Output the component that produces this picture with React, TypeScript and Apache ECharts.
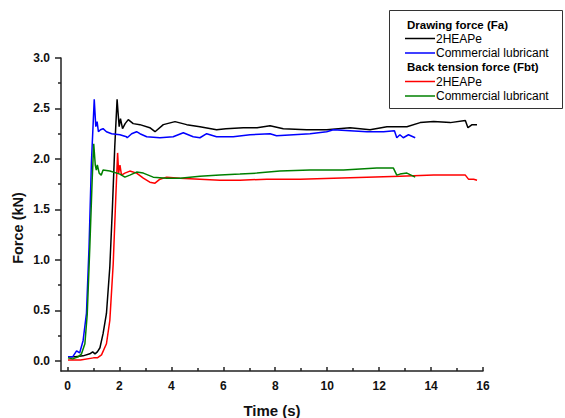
import React, { useEffect, useRef } from "react";
import * as echarts from "echarts";

// Drawing force (Fa)
const faHeape: number[][] = [
  [0.02, 0.04], [0.3, 0.04], [0.6, 0.05], [0.86, 0.07], [0.97, 0.09], [1.06, 0.07], [1.15, 0.09],
  [1.25, 0.13], [1.37, 0.27], [1.5, 0.47], [1.63, 0.93], [1.73, 1.52], [1.82, 2.12], [1.91, 2.59],
  [1.95, 2.45], [1.99, 2.32], [2.04, 2.4], [2.12, 2.3], [2.22, 2.35], [2.34, 2.39], [2.53, 2.35],
  [2.79, 2.34], [3.17, 2.31], [3.37, 2.27], [3.69, 2.34], [4.14, 2.37], [4.59, 2.34], [5.1, 2.32],
  [5.74, 2.29], [6.1, 2.3], [6.77, 2.31], [7.3, 2.31], [7.8, 2.33], [8.31, 2.3], [9.21, 2.29],
  [9.98, 2.29], [10.88, 2.31], [11.65, 2.29], [12.3, 2.32], [13.07, 2.32], [13.58, 2.36], [14.1, 2.37],
  [14.74, 2.36], [15.32, 2.38], [15.42, 2.31], [15.58, 2.34], [15.77, 2.34],
];
const faCommercial: number[][] = [
  [0.02, 0.04], [0.2, 0.04], [0.35, 0.1], [0.47, 0.08], [0.6, 0.2], [0.73, 0.47], [0.83, 1.13],
  [0.92, 1.96], [1.03, 2.59], [1.09, 2.32], [1.14, 2.37], [1.19, 2.27], [1.27, 2.29], [1.37, 2.3],
  [1.5, 2.27], [1.7, 2.25], [2.02, 2.24], [2.27, 2.22], [2.3, 2.21], [2.47, 2.25], [2.66, 2.27],
  [2.79, 2.25], [3.05, 2.22], [3.56, 2.21], [4.07, 2.22], [4.46, 2.26], [4.84, 2.22], [5.1, 2.21],
  [5.36, 2.25], [5.74, 2.22], [6.38, 2.22], [7.03, 2.24], [7.8, 2.25], [8.05, 2.23], [8.7, 2.24],
  [9.34, 2.25], [9.98, 2.27], [10.24, 2.29], [10.88, 2.28], [11.53, 2.27], [12.17, 2.27], [12.59, 2.28],
  [12.68, 2.21], [12.8, 2.24], [12.93, 2.21], [13.13, 2.24], [13.39, 2.21],
];
// Back tension force (Fbt)
const fbtHeape: number[][] = [
  [0.02, 0.01], [0.5, 0.01], [1.0, 0.03], [1.15, 0.03], [1.31, 0.06], [1.5, 0.17], [1.63, 0.4],
  [1.76, 0.96], [1.86, 1.62], [1.93, 2.06], [1.97, 1.86], [2.02, 1.94], [2.08, 1.84], [2.21, 1.86],
  [2.4, 1.88], [2.66, 1.86], [2.92, 1.81], [3.17, 1.77], [3.37, 1.76], [3.56, 1.8], [3.82, 1.82],
  [4.33, 1.81], [5.1, 1.8], [5.87, 1.79], [6.64, 1.79], [7.67, 1.8], [8.96, 1.8], [10.24, 1.81],
  [11.53, 1.82], [12.81, 1.83], [14.1, 1.84], [15.32, 1.84], [15.44, 1.8], [15.64, 1.8], [15.77, 1.79],
];
const fbtCommercial: number[][] = [
  [0.02, 0.03], [0.2, 0.02], [0.41, 0.04], [0.54, 0.07], [0.67, 0.17], [0.76, 0.46], [0.86, 1.13],
  [0.95, 1.79], [1.01, 2.15], [1.07, 1.94], [1.11, 1.89], [1.15, 1.94], [1.22, 1.86], [1.3, 1.84],
  [1.37, 1.89], [1.63, 1.88], [2.02, 1.85], [2.21, 1.82], [2.4, 1.84], [2.66, 1.87], [2.92, 1.86],
  [3.3, 1.82], [3.82, 1.81], [4.33, 1.81], [5.1, 1.83], [5.87, 1.84], [6.64, 1.85], [7.29, 1.86],
  [8.18, 1.88], [9.34, 1.89], [10.63, 1.89], [11.91, 1.91], [12.55, 1.91], [12.68, 1.84], [12.8, 1.85],
  [13.07, 1.86], [13.39, 1.82],
];

const xMajorTicks = [0, 2, 4, 6, 8, 10, 12, 14, 16];
const xMinorTicks = [1, 3, 5, 7, 9, 11, 13, 15];
const yMajorTicks = [0, 0.5, 1.0, 1.5, 2.0, 2.5, 3.0];
const yMinorTicks = [0.25, 0.75, 1.25, 1.75, 2.25, 2.75];

const legendGroups = ["Drawing force (Fa)", "Back tension force (Fbt)"];
const seriesNames = ["2HEAPe", "Commercial lubricant"];

const FONT = "'Liberation Sans', Arial, sans-serif";
const AXIS_COLOR = "#222";

export default function App() {
  const ref = useRef<HTMLDivElement>(null);
  useEffect(() => {
    if (!ref.current) return;
    const chart = echarts.init(ref.current, null, { renderer: "svg" });
    const xMin = -0.25, xMax = 16, yMin = -0.1, yMax = 3.0;
    const lineSeries = (data: number[][], color: string, name: string) => ({
      type: "line",
      name,
      data,
      showSymbol: false,
      symbol: "none",
      lineStyle: { color, width: 1.5 },
      xAxisIndex: 0,
      yAxisIndex: 0,
    });
    const legendItems = [
      { header: legendGroups[0], y: 25 },
      { label: seriesNames[0], color: "#000000", y: 38.5 },
      { label: seriesNames[1], color: "#0000ff", y: 53 },
      { header: legendGroups[1], y: 67 },
      { label: seriesNames[0], color: "#ff0000", y: 81.5 },
      { label: seriesNames[1], color: "#008000", y: 96 },
    ];
    const legendGraphics: any[] = [
      {
        type: "rect",
        shape: { x: 389.5, y: 10.5, width: 173, height: 98 },
        style: { fill: "#fff", stroke: "#333", lineWidth: 1 },
        z: 10,
      },
    ];
    legendItems.forEach((it: any) => {
      if (it.header) {
        legendGraphics.push({
          type: "text",
          x: 407,
          y: it.y,
          style: { text: it.header, font: `bold 11.5px ${FONT}`, fill: "#000", verticalAlign: "middle" },
          z: 11,
        });
      } else {
        legendGraphics.push({
          type: "line",
          shape: { x1: 405, y1: it.y, x2: 435, y2: it.y },
          style: { stroke: it.color, lineWidth: 1.5 },
          z: 11,
        });
        legendGraphics.push({
          type: "text",
          x: 436,
          y: it.y,
          style: { text: it.label, font: `12px ${FONT}`, fill: "#000", verticalAlign: "middle" },
          z: 11,
        });
      }
    });

    chart.setOption({
      animation: false,
      backgroundColor: "#fff",
      grid: { left: 61, right: 82, top: 58, bottom: 47, containLabel: false },
      xAxis: [
        {
          type: "value",
          min: xMin,
          max: xMax,
          position: "bottom",
          axisLine: { show: true, onZero: false, lineStyle: { color: AXIS_COLOR, width: 1.5 } },
          axisTick: { show: true, inside: true, length: 4, customValues: xMajorTicks, lineStyle: { color: AXIS_COLOR, width: 1.5 } },
          axisLabel: {
            show: true,
            customValues: xMajorTicks,
            margin: 9,
            fontFamily: FONT,
            fontWeight: "bold",
            fontSize: 12,
            color: "#111",
            formatter: (v: number) => String(v),
          },
          splitLine: { show: false },
        },
        {
          type: "value",
          min: xMin,
          max: xMax,
          position: "bottom",
          axisLine: { show: false, onZero: false },
          axisTick: { show: true, inside: true, length: 3, customValues: xMinorTicks, lineStyle: { color: AXIS_COLOR, width: 1.5 } },
          axisLabel: { show: false },
          splitLine: { show: false },
        },
      ],
      yAxis: [
        {
          type: "value",
          min: yMin,
          max: yMax,
          position: "left",
          axisLine: { show: true, onZero: false, lineStyle: { color: AXIS_COLOR, width: 1.5 } },
          axisTick: { show: true, inside: false, length: 6, customValues: yMajorTicks, lineStyle: { color: AXIS_COLOR, width: 1.5 } },
          axisLabel: {
            show: true,
            customValues: yMajorTicks,
            margin: 11,
            fontFamily: FONT,
            fontWeight: "bold",
            fontSize: 12,
            color: "#111",
            formatter: (v: number) => v.toFixed(1),
          },
          splitLine: { show: false },
        },
        {
          type: "value",
          min: yMin,
          max: yMax,
          position: "left",
          axisLine: { show: false, onZero: false },
          axisTick: { show: true, inside: false, length: 3, customValues: yMinorTicks, lineStyle: { color: AXIS_COLOR, width: 1.5 } },
          axisLabel: { show: false },
          splitLine: { show: false },
        },
      ],
      series: [
        lineSeries(faHeape, "#000000", "Fa 2HEAPe"),
        lineSeries(faCommercial, "#0000ff", "Fa Commercial lubricant"),
        lineSeries(fbtHeape, "#ff0000", "Fbt 2HEAPe"),
        lineSeries(fbtCommercial, "#008000", "Fbt Commercial lubricant"),
      ],
      graphic: [
        {
          type: "text",
          x: 18,
          y: 228,
          rotation: Math.PI / 2,
          style: {
            text: "Force (kN)",
            font: `bold 14.5px ${FONT}`,
            fill: "#111",
            align: "center",
            verticalAlign: "middle",
          },
        },
        {
          type: "text",
          x: 272,
          y: 410,
          style: {
            text: "Time (s)",
            font: `bold 15px ${FONT}`,
            fill: "#111",
            align: "center",
            verticalAlign: "middle",
          },
        },
        ...legendGraphics,
      ],
    });
    return () => chart.dispose();
  }, []);
  return (
    <div
      ref={ref}
      style={{ position: "absolute", left: 0, top: 0, width: 565, height: 418 }}
    />
  );
}
